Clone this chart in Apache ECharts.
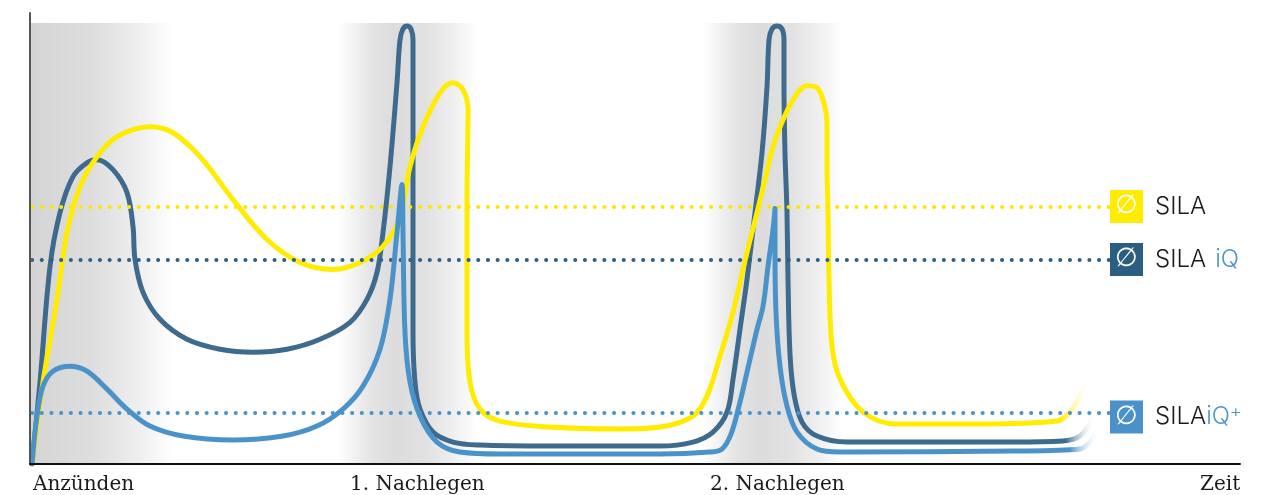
<!DOCTYPE html>
<html>
<head>
<meta charset="utf-8">
<script src="https://cdn.jsdelivr.net/npm/echarts@6/dist/echarts.min.js"></script>
<style>
html,body{margin:0;padding:0;background:#fff;}
#chart{width:1278px;height:495px;}
</style>
</head>
<body>
<div id="chart"></div>
<script>
// ---- data (time units on x, output level on y) ----
var tickLabels = ['Anzünden', '1. Nachlegen', '2. Nachlegen', 'Zeit'];
var tickPositions = [3, 320, 680, 1170];

var phaseBands = [[0, 143], [308, 448], [673, 813]];
var bandTop = 442;

var seriesNames = ['SILA', 'SILA iQ', 'SILA iQ+'];
var averages = [258, 205, 51];

var sila = [
  [2,0],[13,82],[27,165],[37,232],[50,278],[67,308],[87,328],[120,338],[143,332],[170,308],
  [203,265],[237,225],[270,202],[303,195],[330,202],[353,218],[370,248],[380,298],[393,338],
  [410,372],[423,382],[433,375],[438,355],[437,265],[437,132],[440,82],[450,55],[470,43],
  [520,37],[590,35],[630,37],[663,48],[677,68],[690,108],[703,152],[717,212],[727,252],
  [735,285],[743,318],[753,345],[763,365],[772,377],[778,379],[787,377],[793,365],[797,342],
  [797,300],[798,252],[799,185],[802,118],[810,85],[833,52],[867,40],[950,40],
  [1027,43],[1040,52],[1050,68],[1058,85]
];

var silaIQ = [
  [2,0],[10,82],[20,198],[30,252],[43,288],[57,302],[67,305],[83,295],[97,272],[103,238],
  [105,205],[113,172],[130,145],[157,125],[190,115],[223,112],[257,115],[290,125],[320,142],
  [337,165],[347,192],[353,232],[360,298],[367,382],[370,425],[373,436],[377,439],[381,436],
  [383,425],[383,332],[383,132],[385,82],[390,55],[403,32],[423,22],[450,19],[520,18],
  [630,18],[663,22],[683,32],[697,52],[703,85],[710,135],[717,185],[725,252],[732,312],
  [737,378],[739,425],[742,436],[747,439],[752,436],[754,425],[754,378],[755,312],[757,252],
  [758,185],[760,110],[764,70],[772,42],[787,28],[817,22],[983,22],[1033,23],[1050,28],[1063,45]
];

var silaIQPlus = [
  [2,0],[7,48],[13,78],[23,93],[40,98],[57,93],[77,75],[97,55],[120,38],[153,28],[203,24],
  [253,28],[287,38],[313,55],[333,78],[350,115],[360,165],[367,232],[372,280],[373,232],
  [375,132],[380,82],[390,48],[407,22],[430,12],[470,10],[630,10],[680,12],[692,15],
  [701,30],[709,58],[717,92],[727,135],[733,158],[738,198],[743,235],[745,256],[745,218],[746,152],
  [750,98],[757,58],[767,32],[787,15],[810,12],[983,13],[1050,15],[1067,32]
];

// ---- styling ----
var colors = ['#FFEC00', '#3D6A8D', '#4A93CA'];
var dotColors = ['#FFE600', '#2F5F83', '#4A93CA'];
var boxColors = ['#FFEC00', '#2C5E81', '#4A91C9'];
var legendText = ['{a|SILA}', '{a|SILA}{sp|}{b|iQ}', '{a|SILA}{b|iQ}{c|⁺}'];

function fade(c) {
  return {
    type: 'linear', x: 0, y: 0, x2: 1, y2: 0,
    colorStops: [
      {offset: 0, color: c},
      {offset: 0.972, color: c},
      {offset: 1, color: 'rgba(255,255,255,0)'}
    ]
  };
}

var bandGradients = [
  [{offset:0,color:'#d4d4d4'},{offset:0.45,color:'#dedede'},{offset:0.75,color:'#eeeeee'},{offset:1,color:'#ffffff'}],
  [{offset:0,color:'#ffffff'},{offset:0.25,color:'#e3e3e3'},{offset:0.4,color:'#dcdcdc'},{offset:0.62,color:'#e1e1e1'},{offset:0.82,color:'#efefef'},{offset:1,color:'#ffffff'}],
  [{offset:0,color:'#ffffff'},{offset:0.25,color:'#e3e3e3'},{offset:0.4,color:'#dcdcdc'},{offset:0.62,color:'#e1e1e1'},{offset:0.82,color:'#efefef'},{offset:1,color:'#ffffff'}]
];

var richStyles = {
  a: {color: '#1a1a1a', fontFamily: 'Inter', fontWeight: 300, fontSize: 24},
  sp: {width: 9, height: 10},
  b: {color: '#4A93CA', fontFamily: 'Inter', fontWeight: 300, fontSize: 24},
  c: {color: '#4A93CA', fontFamily: 'DejaVu Sans', fontWeight: 'normal', fontSize: 22}
};

var series = [];

// shaded phases
series.push({
  type: 'line', data: [], z: 0, silent: true,
  markArea: {
    silent: true,
    data: phaseBands.map(function (b, i) {
      return [
        {coord: [b[0], 0], itemStyle: {color: {type:'linear', x:0, y:0, x2:1, y2:0, colorStops: bandGradients[i]}}},
        {coord: [b[1], bandTop]}
      ];
    })
  }
});

// dotted averages with legend boxes
averages.forEach(function (v, i) {
  series.push({
    type: 'line', data: [], z: 1, silent: true,
    markLine: {
      silent: true, symbol: 'none', animation: false,
      label: {show: false},
      lineStyle: {color: dotColors[i], width: 4, type: [0.1, 9.6], cap: 'round'},
      data: [[{coord: [2, v]}, {coord: [1080, v]}]]
    },
    markPoint: {
      silent: true, animation: false,
      data: [
        {
          coord: [1096.5, v], symbol: 'rect', symbolSize: 33,
          symbolOffset: [0, i === 2 ? 4 : 0],
          itemStyle: {color: boxColors[i]},
          label: {show: true, position: 'inside', formatter: '∅', color: '#ffffff',
                  fontFamily: 'DejaVu Sans', fontWeight: 'lighter', fontSize: 26}
        },
        {
          coord: [1096.5, v], symbol: 'rect', symbolSize: 33,
          symbolOffset: [0, i === 2 ? 4 : 0],
          itemStyle: {color: 'rgba(0,0,0,0)'},
          label: {show: true, position: 'right', distance: 12, formatter: legendText[i], rich: richStyles}
        }
      ]
    }
  });
});

// curves
var curveData = [silaIQ, sila, silaIQPlus];
var curveIdx = [1, 0, 2];
curveData.forEach(function (d, k) {
  var i = curveIdx[k];
  series.push({
    name: seriesNames[i], type: 'line', data: d, z: 3 + k,
    symbol: 'none', smooth: 0.35, silent: true,
    lineStyle: {width: 5, color: fade(colors[i]), cap: 'round', join: 'round'}
  });
});

var chart = echarts.init(document.getElementById('chart'), null, {renderer: 'canvas'});
chart.setOption({
  animation: false,
  backgroundColor: '#ffffff',
  grid: {left: 30, right: 38, top: 13, bottom: 30},
  xAxis: {
    type: 'value', min: 0, max: 1210, z: 10,
    splitLine: {show: false},
    axisTick: {show: false},
    axisLine: {show: true, lineStyle: {color: '#111', width: 2}},
    axisLabel: {
      show: true, customValues: tickPositions, align: 'left', margin: 11,
      fontFamily: 'DejaVu Serif', fontSize: 20, color: '#1a1a1a',
      formatter: function (v) { var k = tickPositions.indexOf(v); return k >= 0 ? tickLabels[k] : ''; }
    }
  },
  yAxis: {
    type: 'value', min: 0, max: 452, z: 10,
    splitLine: {show: false},
    axisTick: {show: false},
    axisLabel: {show: false},
    axisLine: {show: true, onZero: false, lineStyle: {color: '#555', width: 2}}
  },
  series: series
});
</script>
</body>
</html>
